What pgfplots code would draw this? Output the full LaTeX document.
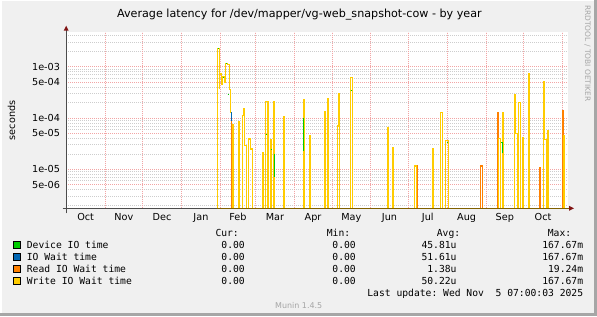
\documentclass[border=0pt]{standalone}
\usepackage{fontspec}
\setmainfont{DejaVu Sans}
\newfontfamily\mono{DejaVu Sans Mono}
\usepackage{pgfplots}
\pgfplotsset{compat=1.18}
\definecolor{bgc}{RGB}{240,240,240}
\definecolor{cdev}{RGB}{0,204,0}
\definecolor{cio}{RGB}{0,102,179}
\definecolor{cread}{RGB}{255,128,0}
\definecolor{cwrite}{RGB}{255,204,0}
\definecolor{mgrid}{RGB}{242,165,165}
\definecolor{mingrid}{RGB}{205,205,205}
\definecolor{axbrown}{RGB}{128,96,0}
\definecolor{arrowc}{RGB}{128,20,20}
\definecolor{lightg}{RGB}{165,165,165}
\frenchspacing
\newcommand\lgf{\mono\fontsize{9.72}{11}\selectfont}
\pgfplotsset{
  wr/.style={const plot, color=cwrite, line width=1.1bp, line join=miter},
  rd/.style={const plot, color=cread, line width=1.1bp, line join=miter},
  gr/.style={color=cdev, line width=1bp},
}
\begin{document}
\begin{tikzpicture}[x=1bp,y=1bp]
\fill[bgc] (0,0) rectangle (597,316);
\fill[white] (0,2.7) rectangle (1.5,316);
\fill[white] (0,314.8) rectangle (597,316);
\fill[black!35] (594.3,0) rectangle (597,316);
\fill[black!35] (0,0) rectangle (597,2.7);
\begin{axis}[
  at={(66.2bp,107.7bp)}, anchor=south west,
  scale only axis, width=501.3bp, height=176bp,
  xmin=0, xmax=400,
  ymode=log, ymin=1.74e-6, ymax=4.68e-3,
  axis line style={draw=none},
  axis background/.style={fill=white},
  major tick length=0pt, minor tick length=0pt,
  xtick={15.5,46,76.5,107.5,137,166.5,197,227.5,258,288.5,319.5,350,380.5},
  xticklabels={Oct,Nov,Dec,Jan,Feb,Mar,Apr,May,Jun,Jul,Aug,Sep,Oct},
  extra x ticks={31,61,92,123,151,182,212,243,273,304,335,365,396},
  extra x tick labels={},
  extra x tick style={grid=major},
  ytick={5e-6,1e-5,5e-5,1e-4,5e-4,1e-3},
  yticklabels={5e-06,1e-05,5e-05,1e-04,5e-04,1e-03},
  minor ytick={2e-6,3e-6,4e-6,6e-6,7e-6,8e-6,9e-6,2e-5,3e-5,4e-5,6e-5,7e-5,8e-5,9e-5,2e-4,3e-4,4e-4,6e-4,7e-4,8e-4,9e-4,2e-3,3e-3,4e-3},
  ymajorgrids, yminorgrids,
  major grid style={mgrid, line width=0.7bp, dash pattern=on 1bp off 1bp},
  minor grid style={mingrid, line width=0.7bp, dash pattern=on 1bp off 1bp},
  tick label style={font=\fontsize{9.7}{11}\selectfont, text=black},
  xticklabel style={inner sep=0pt, anchor=north, text height=7.1bp, text depth=0pt, yshift=-5bp},
  yticklabel style={inner sep=0pt, anchor=east, xshift=-6bp},
]
% Read IO wait (orange)
\addplot[rd] coordinates {(278,1e-9) (279.3,1.16e-5) (280.6,1e-9)};
\addplot[rd] coordinates {(329,1e-9) (330.6,1.16e-5) (332,1e-9)};
\addplot[rd] coordinates {(343,1e-9) (344.2,1.3e-4) (345.2,1e-9)};
\addplot[rd] coordinates {(376,1e-9) (377.7,1.07e-5) (378.7,1e-9)};
\addplot[rd] coordinates {(395,1e-9) (396.1,1.37e-4) (397.1,1e-9)};
% Write IO wait (yellow)
\addplot[wr] coordinates {(120,1e-9) (121,2.3e-3) (122,3.7e-4) (122.6,7.2e-4) (124,4.6e-4) (125,6.5e-4) (126,5e-4) (127.4,1.16e-3) (129,1.12e-3) (130.4,3.6e-4) (131.2,1.27e-4) (131.4,1.27e-4)};
\addplot[wr] coordinates {(132,1e-9) (132.7,7.3e-5) (133.7,1e-9)};
\addplot[wr] coordinates {(136,1e-9) (137.3,8.5e-5) (138.3,1e-9)};
\addplot[wr] coordinates {(139,1e-9) (140.5,1.14e-4) (141.5,1.5e-4) (142.5,2.96e-5) (144,1e-9)};
\addplot[wr] coordinates {(145,1e-9) (145.8,3.9e-5) (146.8,2.4e-5) (147.8,2.5e-5) (149,1e-9)};
\addplot[wr] coordinates {(155,1e-9) (156.4,2.15e-5) (157.4,1e-9)};
\addplot[wr] coordinates {(158,1e-9) (159.1,2.14e-4) (161,1e-9)};
\addplot[wr] coordinates {(162,1e-9) (163,3.85e-5) (164,1e-9)};
\addplot[wr] coordinates {(164.5,1e-9) (165.4,2.14e-4) (166.4,1e-9)};
\addplot[wr] coordinates {(172,1e-9) (173.4,1.05e-4) (174.4,1e-9)};
\addplot[wr] coordinates {(188,1e-9) (189.1,2.24e-4) (190.1,1e-9)};
\addplot[wr] coordinates {(193,1e-9) (194.2,4.5e-5) (195.2,1e-9)};
\addplot[wr] coordinates {(205,1e-9) (206.1,1.33e-4) (207.1,1e-9) (208.3,2.35e-4) (209.3,1e-9)};
\addplot[wr] coordinates {(215,1e-9) (216.3,7e-5) (217.3,3.03e-4) (218.4,1e-9)};
\addplot[wr] coordinates {(226,1e-9) (226.8,6.2e-4) (228.5,1e-9)};
\addplot[wr] coordinates {(255,1e-9) (256.4,6.6e-5) (257.4,1e-9)};
\addplot[wr] coordinates {(259,1e-9) (260.4,2.7e-5) (261.4,1e-9)};
\addplot[wr] coordinates {(277,1e-9) (278,1.16e-5) (279.4,1e-9)};
\addplot[wr] coordinates {(291,1e-9) (292.2,2.5e-5) (293.2,1e-9)};
\addplot[wr] coordinates {(297,1e-9) (298.6,1.3e-4) (300.2,1e-9)};
\addplot[wr] coordinates {(302,1e-9) (303,3.6e-5) (304.7,1e-9)};
\addplot[wr] coordinates {(344,1e-9) (345.1,4e-5) (346.5,1e-9)};
\addplot[wr] coordinates {(347.3,1e-9) (348.2,1.3e-4) (349.2,1e-9)};
\addplot[wr] coordinates {(357,1e-9) (357.8,2.9e-4) (358.8,5e-5) (360,1e-9)};
\addplot[wr] coordinates {(360.5,1e-9) (361.2,2e-4) (362.2,1e-9)};
\addplot[wr] coordinates {(363,1e-9) (363.9,4.1e-5) (364.9,1e-9)};
\addplot[wr] coordinates {(367.5,1e-9) (368.6,7.4e-4) (369.6,1e-9)};
\addplot[wr] coordinates {(380,1e-9) (380.9,5.2e-4) (381.9,3.85e-5) (383.1,1e-9) (384.1,5.6e-5) (385.1,1e-9)};
\addplot[wr] coordinates {(396.5,1e-9) (396.9,4.6e-5) (397.9,1e-9)};
% IO wait (blue) and read at the step near day 131
\addplot[color=cio, line width=1bp] coordinates {(131.4,1.27e-4) (132.2,1.27e-4) (132.2,8.5e-5)};
\addplot[color=cread, line width=1bp] coordinates {(132.2,8.5e-5) (131.5,8.5e-5) (131.5,1e-9)};
% Device IO time (green) visible parts
\addplot[gr] coordinates {(121,2.3e-3) (121.4,2.3e-3)};
\addplot[gr] coordinates {(127.6,1.16e-3) (128.2,1.16e-3)};
\addplot[gr] coordinates {(125.1,6.1e-4) (125.7,6.1e-4)};
\addplot[gr] coordinates {(128.9,2.9e-4) (129.8,2.9e-4)};
\addplot[gr] coordinates {(159.2,4.8e-5) (159.8,4.8e-5)};
\addplot[gr] coordinates {(163.2,2.45e-5) (163.7,2.45e-5)};
\addplot[gr] coordinates {(166.1,2e-5) (166.1,7.2e-6)};
\addplot[gr] coordinates {(189.5,1e-4) (189.5,2.25e-5)};
\addplot[gr] coordinates {(226.9,3.4e-4) (227.5,3.4e-4)};
\addplot[gr] coordinates {(303.6,3.4e-5) (304.4,3.4e-5)};
\addplot[gr] coordinates {(346.8,3.3e-5) (347.8,3.3e-5) (347.8,2.05e-5)};
\end{axis}
% axes
\draw[black!70, line width=1bp] (66.2,102.7) -- (66.2,286);
\draw[black!70, line width=1bp] (62.7,107.7) -- (216.6,107.7);
\draw[axbrown, line width=1bp] (216.6,107.7) -- (569.5,107.7);
\fill[arrowc] (63.7,285.3) -- (68.7,285.3) -- (66.2,290.3) -- cycle;
\fill[arrowc] (569,105.2) -- (569,110.2) -- (574,107.7) -- cycle;
% title and labels
\node[anchor=base, inner sep=0] at (299.4,299) {\fontsize{11.2}{13}\selectfont Average latency for /dev/mapper/vg-web\_snapshot-cow - by year};
\node[rotate=90, anchor=base, inner sep=0] at (15,195.7) {\fontsize{9.7}{11}\selectfont seconds};
\node[rotate=-90, anchor=base west, inner sep=0, text=lightg] at (585,311) {\fontsize{7.5}{9}\selectfont RRDTOOL / TOBI OETIKER};
% legend
\node[anchor=base west, inner sep=0] at (215.3,79.7) {\lgf Cur:};
\node[anchor=base west, inner sep=0] at (326.7,79.7) {\lgf Min:};
\node[anchor=base west, inner sep=0] at (436.7,79.7) {\lgf Avg:};
\node[anchor=base west, inner sep=0] at (547.7,79.7) {\lgf Max:};
\foreach \y/\c/\t/\a/\m in {67.7/cdev/Device IO time/45.81u/167.67m, 55.7/cio/IO Wait time/51.61u/167.67m, 43.7/cread/Read IO Wait time/1.38u/19.24m, 31.7/cwrite/Write IO Wait time/50.22u/167.67m}{
  \filldraw[fill=\c, draw=black, line width=0.8bp] (13.7,\y) rectangle (20.5,\y+7.2);
  \node[anchor=base west, inner sep=0] at (26.7,\y) {\lgf \t};
  \node[anchor=base east, inner sep=0] at (245,\y) {\lgf 0.00};
  \node[anchor=base east, inner sep=0] at (356,\y) {\lgf 0.00};
  \node[anchor=base east, inner sep=0] at (456.7,\y) {\lgf \a};
  \node[anchor=base east, inner sep=0] at (583.3,\y) {\lgf \m};
}
\node[anchor=base east, inner sep=0] at (583.3,19.7) {\lgf Last update: Wed Nov~~5 07:00:03 2025};
\node[anchor=base west, inner sep=0, text=lightg] at (275,7.7) {\fontsize{8}{9}\selectfont Munin 1.4.5};
\end{tikzpicture}
\end{document}
